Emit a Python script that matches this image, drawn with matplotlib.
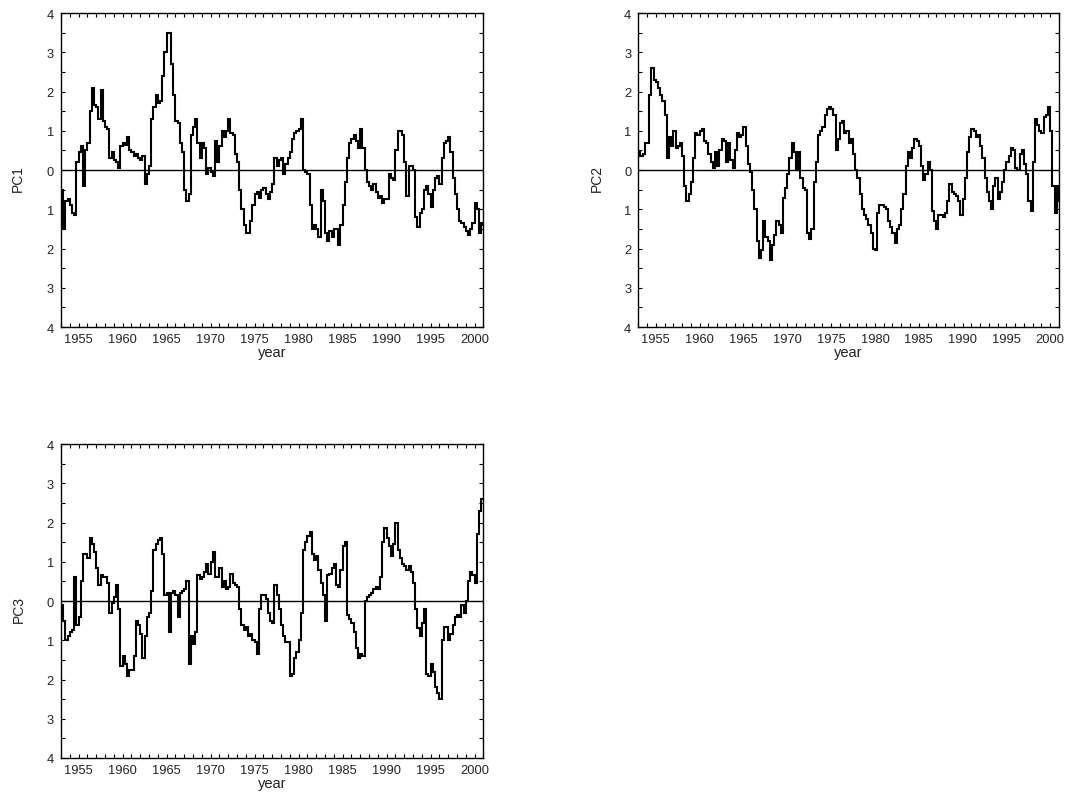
import numpy as np
import matplotlib
matplotlib.use('Agg')
import matplotlib.pyplot as plt
from matplotlib.ticker import FixedLocator, MultipleLocator

plt.rcParams['font.family'] = ['Liberation Sans', 'DejaVu Sans']

# quarterly values, one row per year
STEP = 0.25

pc1_start = 1952.75
pc1 = [
    -0.5, -0.5, -1.5, -0.8,     # 1953
    -0.75, -0.9, -1.1, -1.15,
    0.2, 0.45, 0.6, -0.4,       # 1955
    0.5, 0.7, 1.5, 2.1,
    1.65, 1.6, 1.3, 2.05,
    1.25, 1.1, 1.05, 0.3,
    0.45, 0.25, 0.2, 0.05,
    0.6, 0.7, 0.65, 0.85,       # 1960
    0.5, 0.45, 0.35, 0.4,
    0.3, 0.25, 0.35, -0.35,
    -0.1, 0.1, 1.3, 1.6,
    1.9, 1.7, 1.75, 2.4,
    3.0, 3.5, 3.5, 2.7,         # 1965
    1.9, 1.25, 1.2, 0.7,
    0.45, -0.5, -0.8, -0.6,
    0.9, 1.1, 1.3, 0.7,
    0.3, 0.7, 0.55, -0.1,
    0.05, -0.05, -0.15, 0.75,   # 1970
    0.2, 0.6, 1.0, 0.85,
    1.0, 1.3, 0.95, 0.9,
    0.4, 0.2, -0.5, -1.0,
    -1.4, -1.6, -1.6, -1.3,
    -0.9, -0.6, -0.55, -0.7,    # 1975
    -0.5, -0.45, -0.6, -0.75,
    -0.55, -0.35, 0.3, 0.1,
    0.25, 0.3, -0.1, 0.15,
    0.3, 0.45, 0.8, 0.95,
    1.0, 1.05, 1.3, 0.0,        # 1980
    -0.05, -0.1, -0.9, -1.5,
    -1.4, -1.5, -1.7, -0.5,
    -0.8, -1.6, -1.8, -1.55,
    -1.7, -1.5, -1.5, -1.9,
    -1.4, -0.9, -0.3, 0.3,      # 1985
    0.7, 0.8, 0.9, 0.75,
    0.55, 1.05, 0.55, 0.0,
    -0.3, -0.4, -0.5, -0.35,
    -0.55, -0.7, -0.65, -0.85,
    -0.75, -0.75, -0.1, -0.2,   # 1990
    -0.25, 0.5, 1.0, 1.0,
    0.9, 0.2, -0.65, 0.1,
    0.1, 0.0, -1.2, -1.45,
    -1.1, -1.0, -0.5, -0.4,
    -0.6, -0.95, -0.5, -0.2,    # 1995
    -0.15, -0.35, 0.3, 0.7,
    0.75, 0.85, 0.45, -0.2,
    -0.6, -1.0, -1.3, -1.35,
    -1.45, -1.55, -1.65, -1.5,
    -1.35, -0.85, -1.0, -1.6,   # 2000
    -1.35, -1.4,
]

pc2_start = 1953.0
pc2 = [
    0.45, 0.35, 0.4, 0.7,       # 1953
    0.7, 1.9, 2.6, 2.3,
    2.25, 2.1, 1.9, 1.75,       # 1955
    1.4, 0.3, 0.85, 0.6,
    1.0, 0.55, 0.6, 0.7,
    0.35, -0.4, -0.8, -0.6,
    -0.3, 0.3, 0.95, 0.9,
    1.0, 1.05, 0.75, 0.7,       # 1960
    0.4, 0.2, 0.05, 0.45,
    0.1, 0.5, 0.8, 0.75,
    0.2, 0.7, 0.25, 0.05,
    0.5, 0.95, 0.85, 0.9,
    1.1, 0.6, 0.15, -0.05,      # 1965
    -0.5, -1.0, -1.8, -2.25,
    -2.05, -1.3, -1.7, -1.8,
    -2.3, -1.9, -1.65, -1.3,
    -1.4, -1.6, -0.7, -0.45,
    -0.1, 0.3, 0.7, 0.45,       # 1970
    0.0, 0.45, -0.2, -0.45,
    -0.5, -1.6, -1.75, -1.5,
    -0.3, 0.2, 0.9, 1.0,
    1.1, 1.4, 1.55, 1.6,
    1.55, 1.4, 0.5, 0.8,        # 1975
    1.2, 1.25, 0.95, 1.0,
    0.7, 0.8, 0.4, 0.0,
    -0.2, -0.6, -1.0, -1.15,
    -1.25, -1.4, -1.6, -2.0,
    -2.05, -1.1, -0.9, -0.9,    # 1980
    -0.95, -1.0, -1.3, -1.45,
    -1.6, -1.85, -1.5, -1.4,
    -1.0, -0.6, 0.1, 0.45,
    0.3, 0.55, 0.8, 0.75,
    0.6, 0.1, -0.25, -0.1,      # 1985
    0.2, 0.0, -1.05, -1.3,
    -1.5, -1.15, -1.15, -1.2,
    -1.1, -0.8, -0.35, -0.55,
    -0.6, -0.65, -0.8, -1.15,
    -0.75, -0.2, 0.45, 0.85,    # 1990
    1.05, 1.0, 0.85, 0.9,
    0.6, 0.3, -0.2, -0.55,
    -0.8, -1.0, -0.4, -0.2,
    -0.75, -0.55, -0.3, 0.0,
    0.2, 0.35, 0.55, 0.5,       # 1995
    0.05, 0.0, 0.4, 0.5,
    0.15, -0.1, -0.8, -1.05,
    0.2, 1.3, 1.15, 1.0,
    0.95, 1.35, 1.4, 1.6,
    1.0, -0.4, -1.1, -0.4,      # 2000
    -0.8,
]

pc3_start = 1953.0
pc3 = [
    -0.1, -0.5, -1.0, -0.9,     # 1953
    -0.8, -0.75, 0.6, -0.6,
    -0.4, 0.5, 1.2, 1.2,        # 1955
    1.1, 1.6, 1.45, 1.25,
    0.85, 0.4, 0.65, 0.6,
    0.6, 0.45, -0.3, -0.05,
    0.1, 0.4, -0.2, -1.65,
    -1.4, -1.6, -1.9, -1.75,    # 1960
    -1.75, -1.4, -0.5, -0.6,
    -0.85, -1.45, -0.9, -0.4,
    -0.3, 0.25, 1.3, 1.45,
    1.55, 1.6, 1.2, 0.15,
    0.2, -0.8, 0.2, 0.25,       # 1965
    0.15, -0.4, 0.2, 0.25,
    0.3, 0.5, -1.6, -0.9,
    -1.1, -0.8, 0.65, 0.55,
    0.6, 0.75, 0.95, 0.7,
    1.0, 1.25, 0.6, 0.6,        # 1970
    0.85, 0.35, 0.5, 0.3,
    0.35, 0.7, 0.45, 0.4,
    0.35, -0.2, -0.6, -0.75,
    -0.65, -0.9, -0.85, -1.0,
    -1.05, -1.35, -0.2, 0.15,   # 1975
    0.15, 0.05, -0.3, -0.5,
    -0.55, 0.4, 0.15, -0.2,
    -0.6, -0.9, -1.05, -1.05,
    -1.9, -1.85, -1.45, -1.3,
    -1.0, -0.3, 1.3, 1.5,       # 1980
    1.65, 1.75, 1.2, 1.05,
    1.15, 0.8, 0.45, 0.15,
    -0.5, 0.65, 0.7, 0.85,
    0.95, 0.4, 0.35, 0.8,
    1.4, 1.5, -0.35, -0.45,     # 1985
    -0.55, -0.8, -1.2, -1.45,
    -1.35, -1.4, 0.0, 0.1,
    0.15, 0.2, 0.3, 0.35,
    0.3, 0.6, 1.5, 1.85,
    1.6, 1.4, 1.15, 1.45,       # 1990
    2.0, 1.3, 1.1, 0.95,
    0.9, 0.8, 0.9, 0.75,
    0.45, -0.2, -0.7, -0.9,
    -0.55, -0.2, -1.85, -1.9,
    -1.6, -1.8, -2.2, -2.35,    # 1995
    -2.5, -1.0, -0.65, -0.65,
    -1.0, -0.85, -0.6, -0.4,
    -0.35, -0.4, -0.1, -0.3,
    0.0, 0.5, 0.75, 0.65,
    0.45, 1.7, 2.3, 2.6,        # 2000
    2.6,
]

year_ticks = [1955, 1960, 1965, 1970, 1975, 1980, 1985, 1990, 1995, 2000]
y_ticks = [-4, -3, -2, -1, 0, 1, 2, 3, 4]
y_tick_labels = ['4', '3', '2', '1', '0', '1', '2', '3', '4']

TEXT = '#222222'


def draw_panel(fig, rect, start, values, name, label_x):
    ax = fig.add_axes(rect)
    values = np.asarray(values)
    edges = start + STEP * np.arange(len(values) + 1)
    ax.stairs(values, edges, baseline=None, color='black', linewidth=1.5)
    ax.axhline(0, color='black', linewidth=1.0)

    ax.set_xlim(1953, 2001)
    ax.set_ylim(-4, 4)
    ax.xaxis.set_major_locator(FixedLocator(year_ticks))
    ax.xaxis.set_minor_locator(MultipleLocator(1))
    ax.yaxis.set_major_locator(FixedLocator(y_ticks))
    ax.yaxis.set_minor_locator(MultipleLocator(0.5))
    ax.set_yticklabels(y_tick_labels)

    ax.tick_params(which='both', direction='in', top=True, right=True,
                   length=2.8, width=0.8, colors='black')
    ax.tick_params(axis='x', which='major', pad=4.5, labelsize=9.3, labelcolor=TEXT)
    ax.tick_params(axis='y', which='major', pad=5, labelsize=9.3, labelcolor=TEXT)
    for sp in ax.spines.values():
        sp.set_linewidth(1.0)

    ax.set_xlabel('year', fontsize=10.5, color=TEXT, labelpad=0)
    ax.set_ylabel(name, fontsize=10, color=TEXT)
    ax.yaxis.set_label_coords(label_x, 0.475)
    return ax


fig = plt.figure(figsize=(10.72, 8.03), dpi=100)

draw_panel(fig, [0.0569, 0.5915, 0.394, 0.391], pc1_start, pc1, 'PC1', -0.085)
draw_panel(fig, [0.5954, 0.5915, 0.3925, 0.391], pc2_start, pc2, 'PC2', -0.081)
draw_panel(fig, [0.0569, 0.0548, 0.394, 0.391], pc3_start, pc3, 'PC3', -0.083)

plt.savefig('out.png', dpi=100)
plt.close()
